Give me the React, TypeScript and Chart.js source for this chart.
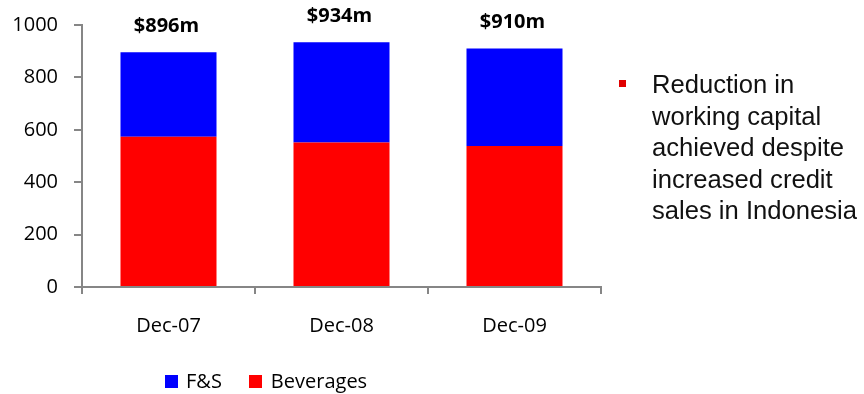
import React, { useEffect, useRef } from "react";
import { Chart, registerables } from "chart.js";

Chart.register(...registerables);

const categories = ["Dec-07", "Dec-08", "Dec-09"];
const beverages = [573, 552, 538];
const fs = [323, 382, 372];
const yTicks = [0, 200, 400, 600, 800, 1000];
const bulletText = "Reduction in working capital achieved despite increased credit sales in Indonesia";

const FONT = "'Open Sans', sans-serif";

const totalsPlugin = {
  id: "totals",
  afterDatasetsDraw(chart: any) {
    const ctx = chart.ctx;
    const meta = chart.getDatasetMeta(1);
    ctx.save();
    ctx.font = "bold 20px 'Open Sans', sans-serif";
    ctx.fillStyle = "#000";
    ctx.textAlign = "center";
    ctx.textBaseline = "middle";
    meta.data.forEach((el: any, i: number) => {
      const total = beverages[i] + fs[i];
      ctx.fillText("$" + total + "m", el.x - 2, el.y - 26);
    });
    ctx.restore();
  },
};

function BarChart() {
  const ref = useRef<HTMLCanvasElement | null>(null);
  useEffect(() => {
    document.body.style.margin = "0";
    if (!ref.current) return;
    const chart = new Chart(ref.current, {
      type: "bar",
      data: {
        labels: categories,
        datasets: [
          { label: "Beverages", data: beverages, backgroundColor: "#FF0000", barPercentage: 0.555, categoryPercentage: 1 },
          { label: "F&S", data: fs, backgroundColor: "#0000FF", barPercentage: 0.555, categoryPercentage: 1 },
        ],
      },
      options: {
        animation: false,
        responsive: false,
        maintainAspectRatio: false,
        layout: { padding: { top: 25, right: 19, left: 0, bottom: 0 } },
        plugins: { legend: { display: false }, tooltip: { enabled: false } },
        scales: {
          x: {
            stacked: true,
            offset: true,
            grid: { offset: true, drawOnChartArea: false, tickLength: 7, color: "#868686", lineWidth: 2 },
            border: { color: "#868686", width: 2 },
            ticks: { color: "#000", font: { family: FONT, size: 20 }, padding: 20 },
            afterFit: (s: any) => { s.height = 107; },
          },
          y: {
            stacked: true,
            min: 0,
            max: 1000,
            afterBuildTicks: (s: any) => { s.ticks = yTicks.map((v) => ({ value: v })); },
            grid: { drawOnChartArea: false, tickLength: 8, color: "#868686", lineWidth: 2 },
            border: { color: "#868686", width: 2 },
            ticks: { color: "#000", font: { family: FONT, size: 20 }, padding: 16, callback: (v: any) => String(v) },
            afterFit: (s: any) => { s.width = 82; s.paddingTop = 0; s.paddingBottom = 0; },
          },
        },
      },
      plugins: [totalsPlugin],
    });
    return () => chart.destroy();
  }, []);
  return <canvas ref={ref} width={620} height={394} style={{ position: "absolute", left: 0, top: 0 }} />;
}

export default function App() {
  return (
    <div style={{ position: "relative", width: 864, height: 394, background: "#fff", overflow: "hidden" }}>
      <BarChart />
      <div style={{ position: "absolute", left: 165, top: 368, display: "flex", alignItems: "center", fontFamily: FONT, fontSize: 20, color: "#000", lineHeight: "26px" }}>
        <span style={{ width: 13, height: 13, background: "#0000FF", display: "inline-block", marginRight: 8 }} />
        <span style={{ marginRight: 27 }}>F&amp;S</span>
        <span style={{ width: 13, height: 13, background: "#FF0000", display: "inline-block", marginRight: 9 }} />
        <span>Beverages</span>
      </div>
      <div style={{ position: "absolute", left: 619, top: 80, width: 7, height: 7, background: "#E00000" }} />
      <div style={{ position: "absolute", left: 652, top: 69, width: 212, fontFamily: "'Liberation Sans', Arial, sans-serif", fontSize: 25.6, lineHeight: "31.5px", color: "#111" }}>
        {bulletText}
      </div>
    </div>
  );
}
